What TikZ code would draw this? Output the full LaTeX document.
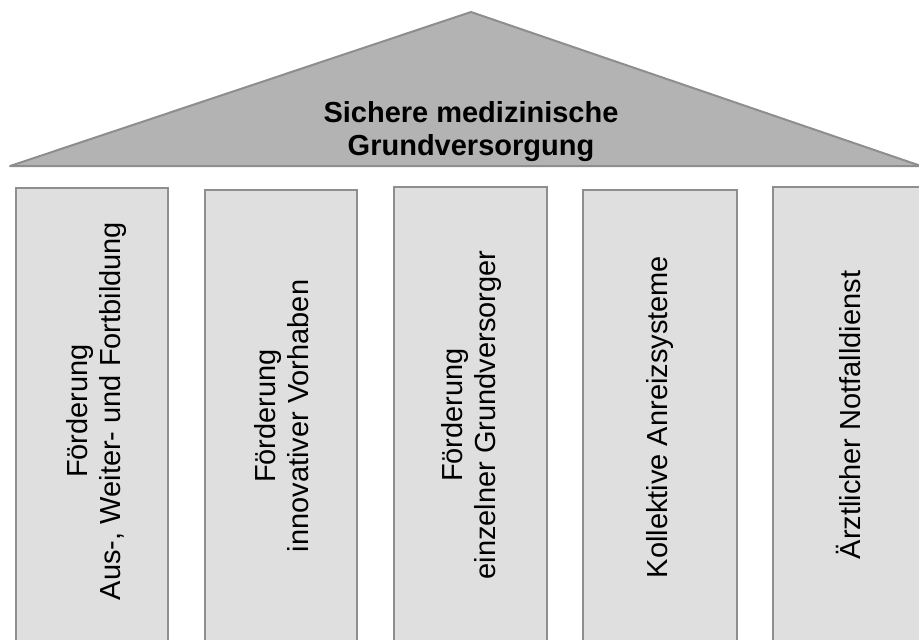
\documentclass[tikz,border=0pt]{standalone}
\usepackage{fontspec}
\setmainfont{Liberation Sans}
\definecolor{roofgray}{HTML}{B3B3B3}
\definecolor{pillargray}{HTML}{DFDFDF}
\definecolor{edgegray}{HTML}{8E8E8E}
\begin{document}
\begin{tikzpicture}[x=1pt,y=-1pt,
  roofstyle/.style={fill=roofgray,draw=edgegray,line width=2pt,line join=round},
  pillar/.style={fill=pillargray,draw=edgegray,line width=2pt},
  pillartext/.style={rotate=90,align=center,inner sep=0pt,font=\fontsize{29}{33}\selectfont},
  rooftext/.style={align=center,inner sep=0pt,font=\fontsize{29}{33}\selectfont\bfseries}]
\useasboundingbox (0,0) rectangle (919,640);
% roof
\coordinate (rl) at (10,166);
\coordinate (rr) at (921,166);
\coordinate (apex) at (471,12);
\draw[roofstyle] (rl) -- (apex) -- (rr) -- cycle;
\node[rooftext] (roof) at (471,132) {Sichere medizinische\\Grundversorgung};
% pillars
\draw[pillar] (16,660) -- (16,188) -- (168,188) -- (168,660);
\draw[pillar] (205,660) -- (205,190) -- (357,190) -- (357,660);
\draw[pillar] (394,660) -- (394,187) -- (547,187) -- (547,660);
\draw[pillar] (583,660) -- (583,190) -- (737,190) -- (737,660);
\draw[pillar] (773,660) -- (773,187) -- (930,187) -- (930,660);
\node[pillartext] (p1) at (97,411) {Förderung\\Aus-, Weiter- und Fortbildung};
\node[pillartext] (p2) at (282,416) {Förderung\\innovativer Vorhaben};
\node[pillartext] (p3) at (471,415) {Förderung\\einzelner Grundversorger};
\node[pillartext] (p4) at (660,417) {Kollektive Anreizsysteme};
\node[pillartext] (p5) at (848,415) {Ärztlicher Notfalldienst};
\end{tikzpicture}
\end{document}
